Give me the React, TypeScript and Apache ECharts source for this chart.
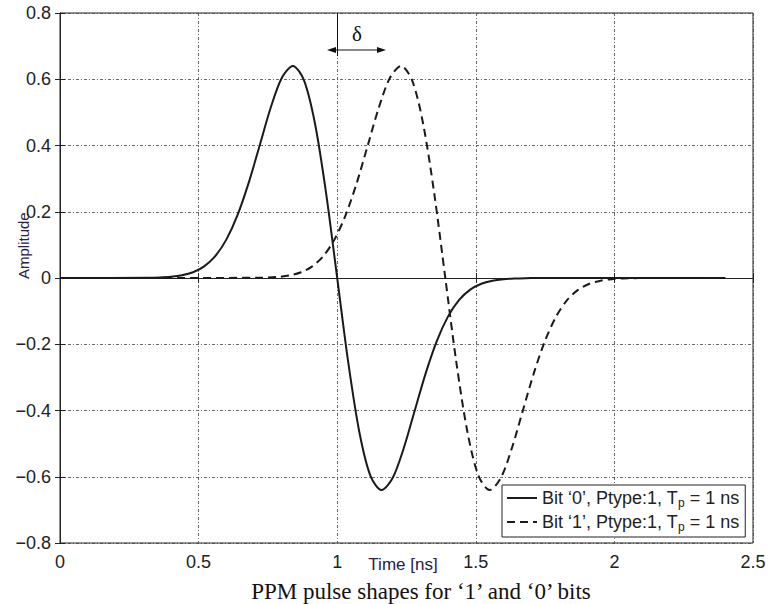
import React, { useEffect, useRef } from "react";
import * as echarts from "echarts";

// Time samples [ns] and amplitudes
const bit0Time = [0, 0.32, 0.36, 0.40, 0.44, 0.48, 0.52, 0.56, 0.60, 0.64, 0.68, 0.72, 0.76, 0.80, 0.84, 0.88, 0.92, 0.96, 1.00, 1.04, 1.08, 1.12, 1.16, 1.20, 1.24, 1.28, 1.32, 1.36, 1.40, 1.44, 1.48, 1.52, 1.56, 1.60, 1.64, 1.68, 1.72, 1.80, 2.40];
const bit0Amp = [0, 0.0005, 0.0014, 0.0035, 0.0081, 0.0174, 0.0352, 0.0661, 0.1159, 0.1889, 0.2856, 0.3994, 0.5139, 0.6038, 0.64, 0.5974, 0.4656, 0.2557, 0, -0.2557, -0.4656, -0.5974, -0.64, -0.6038, -0.5139, -0.3994, -0.2856, -0.1889, -0.1159, -0.0661, -0.0352, -0.0174, -0.0081, -0.0035, -0.0014, -0.0005, -0.0002, 0, 0];

const bit1Time = [0, 0.71, 0.75, 0.79, 0.83, 0.87, 0.91, 0.95, 0.99, 1.03, 1.07, 1.11, 1.15, 1.19, 1.23, 1.27, 1.31, 1.35, 1.39, 1.43, 1.47, 1.51, 1.55, 1.59, 1.63, 1.67, 1.71, 1.75, 1.79, 1.83, 1.87, 1.91, 1.95, 1.99, 2.03, 2.07, 2.11, 2.19, 2.40];
const bit1Amp = [0, 0.0005, 0.0014, 0.0035, 0.0081, 0.0174, 0.0352, 0.0661, 0.1159, 0.1889, 0.2856, 0.3994, 0.5139, 0.6038, 0.64, 0.5974, 0.4656, 0.2557, 0, -0.2557, -0.4656, -0.5974, -0.64, -0.6038, -0.5139, -0.3994, -0.2856, -0.1889, -0.1159, -0.0661, -0.0352, -0.0174, -0.0081, -0.0035, -0.0014, -0.0005, -0.0002, 0, 0];

const xTicks = [0, 0.5, 1, 1.5, 2, 2.5];
const yTicks = [-0.8, -0.6, -0.4, -0.2, 0, 0.2, 0.4, 0.6, 0.8];

const seriesNames = ["Bit ‘0’, Ptype:1, Tp = 1 ns", "Bit ‘1’, Ptype:1, Tp = 1 ns"];
const caption = "PPM pulse shapes for ‘1’ and ‘0’ bits";

const SANS = "'Liberation Sans', Arial, Helvetica, sans-serif";
const SERIF = "'Liberation Serif', 'Times New Roman', serif";

export default function App() {
  const ref = useRef<HTMLDivElement>(null);

  useEffect(() => {
    if (!ref.current) return;
    const chart = echarts.init(ref.current, undefined, { renderer: "svg" });
    const gridLine = { show: true, lineStyle: { color: "#444", width: 0.8, type: [3, 2, 1, 2] as any } };
    const fmt = (v: number) => {
      const r = Math.round(v * 10) / 10;
      if (xTicks.indexOf(r) < 0 && yTicks.indexOf(r) < 0) return "";
      return String(r).replace("-", "\u2212");
    };
    const axisCommon = {
      axisLine: { show: true, lineStyle: { color: "#222" } },
      axisTick: { show: true, inside: true, length: 5, lineStyle: { color: "#222" } },
    };
    const option: any = {
      animation: false,
      backgroundColor: "#fff",
      grid: { left: 60, right: 17, top: 13, bottom: 61, show: true, borderColor: "#222", borderWidth: 1 },
      xAxis: [
        {
          type: "value", min: 0, max: 2.5, interval: 0.5, position: "bottom", ...axisCommon,
          axisLabel: { color: "#222", fontFamily: SANS, fontSize: 18, margin: 10, formatter: fmt },
          splitLine: gridLine,
        },
        {
          type: "value", min: 0, max: 2.5, interval: 0.5, position: "top", ...axisCommon,
          axisLabel: { show: false }, splitLine: { show: false },
        },
      ],
      yAxis: [
        {
          type: "value", min: -0.8, max: 0.8, interval: 0.2, position: "left", ...axisCommon,
          axisLabel: { color: "#222", fontFamily: SANS, fontSize: 18, margin: 9, formatter: fmt },
          splitLine: gridLine,
        },
        {
          type: "value", min: -0.8, max: 0.8, interval: 0.2, position: "right", ...axisCommon,
          axisLabel: { show: false }, splitLine: { show: false },
        },
      ],
      legend: {
        orient: "vertical",
        left: 502, top: 485,
        padding: [4, 6, 4, 4],
        itemGap: 4,
        itemWidth: 30,
        itemHeight: 18,
        backgroundColor: "#fff",
        borderColor: "#222",
        borderWidth: 1,
        borderRadius: 0,
        selectedMode: false,
        itemStyle: { color: "rgba(0,0,0,0)", borderColor: "rgba(0,0,0,0)", borderWidth: 0, opacity: 0 },
        textStyle: {
          color: "#222", fontFamily: SANS, fontSize: 18,
          rich: { sub: { fontSize: 12, fontFamily: SANS, color: "#222", padding: [10, 0, 0, 0] } },
        },
        formatter: (name: string) => name.replace("Tp", "T{sub|p}"),
        data: seriesNames,
      },
      series: [
        {
          name: seriesNames[0], type: "line", smooth: 0.3, showSymbol: false, symbol: "none",
          xAxisIndex: 0, yAxisIndex: 0,
          lineStyle: { color: "#1a1a1a", width: 2, type: "solid" },
          itemStyle: { color: "#1a1a1a" },
          data: bit0Time.map((t, i) => [t, bit0Amp[i]]),
          z: 3,
        },
        {
          name: seriesNames[1], type: "line", smooth: 0.3, showSymbol: false, symbol: "none",
          xAxisIndex: 0, yAxisIndex: 0,
          lineStyle: { color: "#1a1a1a", width: 2, type: [8, 5] },
          itemStyle: { color: "#1a1a1a" },
          data: bit1Time.map((t, i) => [t, bit1Amp[i]]),
          z: 3,
        },
      ],
      graphic: [
        { type: "text", x: 421, y: 591, style: { text: caption, font: `23px ${SERIF}`, fill: "#111", align: "center", verticalAlign: "middle" }, z: 10 },
        { type: "text", x: 403, y: 564, style: { text: "Time [ns]", font: `17px ${SANS}`, fill: "#2a2045", align: "center", verticalAlign: "middle" }, z: 10 },
        { type: "text", x: 23, y: 279, rotation: Math.PI / 2, style: { text: "Amplitude", font: `15px ${SANS}`, fill: "#2a2045", align: "left", verticalAlign: "middle" }, z: 10 },
        { type: "text", x: 357, y: 34, style: { text: "δ", font: `21px ${SERIF}`, fill: "#111", align: "center", verticalAlign: "middle" }, z: 10 },
        { type: "line", shape: { x1: 332, y1: 50, x2: 381, y2: 50 }, style: { stroke: "#111", lineWidth: 1.2 }, z: 10 },
        { type: "polygon", shape: { points: [[327, 50], [336, 47], [336, 53]] }, style: { fill: "#111" }, z: 10 },
        { type: "polygon", shape: { points: [[386, 50], [377, 47], [377, 53]] }, style: { fill: "#111" }, z: 10 },
        { type: "line", shape: { x1: 337.5, y1: 13, x2: 337.5, y2: 56 }, style: { stroke: "#111", lineWidth: 1 }, z: 10 },
      ],
    };
    chart.setOption(option);
    return () => chart.dispose();
  }, []);

  return <div ref={ref} style={{ width: 770, height: 604, position: "absolute", left: 0, top: 0 }} />;
}
